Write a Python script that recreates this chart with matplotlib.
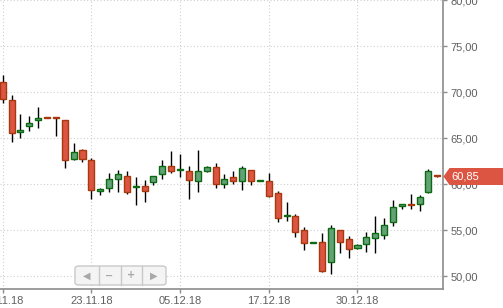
import numpy as np
import matplotlib
matplotlib.use("Agg")
import matplotlib.pyplot as plt
from matplotlib.path import Path
from matplotlib.patches import FancyBboxPatch

plt.rcParams['font.family'] = ['Liberation Sans', 'DejaVu Sans']

# ---- daily candles ----
opens = [71.05, 69.10, 65.70, 66.30, 66.92, 67.30, 67.30, 66.92, 62.75, 63.66,
         62.61, 59.27, 59.53, 60.58, 60.84, 59.65, 59.75, 60.18, 61.05, 61.96,
         61.55, 61.41, 60.36, 61.45, 61.81, 60.03, 60.73, 60.36, 61.49, 60.36,
         60.29, 59.00, 56.50, 56.49, 54.97, 53.62, 53.66, 51.49, 54.97, 53.99,
         53.08, 53.51, 54.16, 54.42, 55.84, 57.58, 57.80, 57.79, 59.10, 61.00]
highs = [71.85, 69.67, 67.61, 67.39, 68.37, 67.30, 67.30, 66.92, 64.46, 63.84,
         62.83, 59.60, 61.20, 61.52, 61.41, 60.76, 60.43, 60.84, 62.61, 63.59,
         63.26, 61.96, 63.70, 61.96, 62.28, 61.09, 61.41, 61.96, 61.49, 60.42,
         61.20, 59.24, 58.04, 56.74, 55.33, 53.75, 54.67, 55.54, 54.97, 54.31,
         53.48, 54.78, 56.52, 56.27, 58.23, 57.80, 58.91, 58.80, 61.63, 61.00]
lows = [68.84, 64.60, 65.03, 65.79, 66.12, 67.20, 65.20, 61.77, 62.58, 62.36,
        58.40, 58.84, 59.13, 59.16, 58.88, 57.75, 58.08, 59.90, 60.58, 61.23,
        60.79, 58.40, 59.16, 61.34, 59.60, 59.60, 60.00, 59.38, 59.92, 60.36,
        58.62, 55.87, 56.01, 54.24, 52.83, 53.55, 50.40, 50.25, 52.50, 51.99,
        52.97, 52.61, 52.53, 53.99, 55.40, 57.32, 57.32, 57.10, 58.97, 60.73]
closes = [69.20, 65.51, 65.85, 66.60, 67.14, 67.20, 67.20, 62.58, 63.45, 62.75,
          59.32, 59.46, 60.54, 61.05, 59.10, 59.75, 59.21, 60.84, 61.92, 61.45,
          61.62, 60.43, 61.41, 61.81, 59.97, 60.51, 60.36, 61.71, 60.36, 60.42,
          58.73, 56.27, 56.60, 54.82, 53.62, 53.70, 50.58, 55.18, 53.73, 52.97,
          53.34, 54.21, 54.64, 55.51, 57.47, 57.79, 57.72, 58.55, 61.38, 60.85]

tick_idx = [0, 10, 20, 30, 40]
tick_labels = ["09.11.18", "23.11.18", "05.12.18", "17.12.18", "30.12.18"]
y_ticks = [50, 55, 60, 65, 70, 75, 80]

up_fill, up_edge = "#62a276", "#0c6a12"
dn_fill, dn_edge = "#dc5442", "#a8380d"

fig = plt.figure(figsize=(5.03, 3.08), dpi=100, facecolor="white")
ax = fig.add_axes([0, 1 - 289 / 308, 443 / 503, 289 / 308])
ax.set_facecolor("white")

x = np.arange(len(opens))
o = np.array(opens)
c = np.array(closes)
up = c >= o

# wicks
ax.vlines(x, lows, highs, color="black", linewidth=1.0, zorder=2)

# bodies
bottom = np.minimum(o, c)
height = np.maximum(np.abs(c - o), 0.08)
ax.bar(x[up], height[up], bottom=bottom[up], width=0.68,
       color=up_fill, edgecolor=up_edge, linewidth=1.0, zorder=3)
ax.bar(x[~up], height[~up], bottom=bottom[~up], width=0.68,
       color=dn_fill, edgecolor=dn_edge, linewidth=1.0, zorder=3)

ax.set_xlim(-0.30, 49.64)
ax.set_ylim(48.59, 80.0)

ax.set_xticks(tick_idx)
ax.set_xticklabels(tick_labels)
ax.set_yticks(y_ticks)
ax.set_yticklabels([f"{v:.2f}".replace(".", ",") for v in y_ticks])
ax.yaxis.tick_right()

ax.grid(True, linestyle=(0, (1, 2)), color="#cfcfcf", linewidth=0.8)
ax.set_axisbelow(True)

for s in ["top", "left"]:
    ax.spines[s].set_visible(False)
for s in ["bottom", "right"]:
    ax.spines[s].set_color("#8c8c8c")
    ax.spines[s].set_linewidth(1.2)

ax.tick_params(axis="both", colors="#8c8c8c", labelcolor="#606060",
               labelsize=8, length=3, width=1)
ax.tick_params(axis="x", pad=2)
ax.tick_params(axis="y", pad=2.5)

# last price marker on the right axis
last = closes[-1]
verts = [(0, 0), (6, 8.5), (62, 8.5), (62, -8.5), (6, -8.5), (0, 0)]
tag = Path(verts, [Path.MOVETO] + [Path.LINETO] * 4 + [Path.CLOSEPOLY])
ax.plot([1.0], [last], marker=tag, markersize=62 * 2 * 0.72,
        color=dn_fill, markeredgewidth=0, transform=ax.get_yaxis_transform(),
        clip_on=False, zorder=5)
ax.annotate(f"{last:.2f}".replace(".", ","), xy=(1.0, last),
            xycoords=ax.get_yaxis_transform(), xytext=(6, 0),
            textcoords="offset points", va="center", ha="left",
            color="white", fontsize=8, zorder=6, annotation_clip=False)

# navigator buttons
W, H = 503.0, 308.0
box = FancyBboxPatch((75 / W, (H - 285) / H), 91 / W, 19 / H,
                     boxstyle="round,pad=0,rounding_size=0.008",
                     transform=fig.transFigure, facecolor="#f4f4f4",
                     edgecolor="#c9c9c9", linewidth=1, zorder=10)
fig.patches.append(box)
for xd in [98.5, 120.5, 141.5]:
    fig.add_artist(plt.Line2D([xd / W, xd / W], [(H - 285) / H, (H - 266) / H],
                              color="#c9c9c9", linewidth=1, zorder=11))
for xc, sym in zip([87, 109.5, 131, 153.5], ["◀", "−", "+", "▶"]):
    fig.text(xc / W, (H - 275.5) / H, sym, ha="center", va="center",
             fontsize=7, color="#a8a8a8", family="DejaVu Sans",
             fontweight="bold", zorder=12)

fig.savefig("out.png", dpi=100, facecolor="white")
